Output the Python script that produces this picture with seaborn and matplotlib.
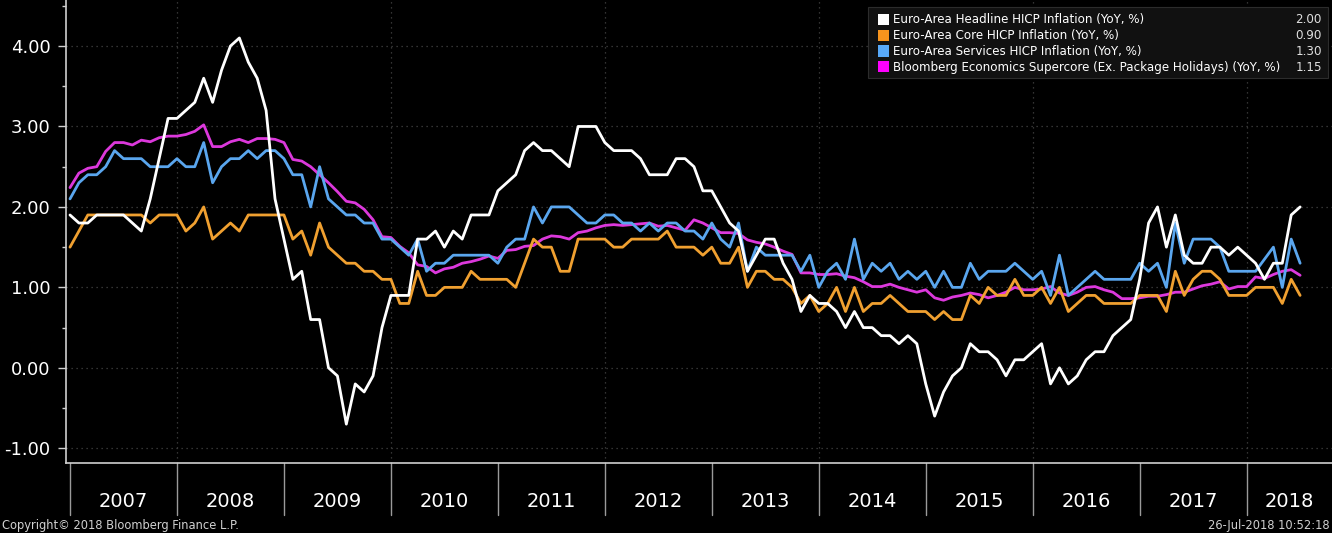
import numpy as np
import pandas as pd
import matplotlib
matplotlib.use("Agg")
import matplotlib.pyplot as plt
import matplotlib.transforms as mtransforms
from matplotlib.patches import Rectangle
import seaborn as sns

# ---------------- data ----------------
months = pd.date_range("2006-12-31", periods=139, freq="ME")

headline = [1.9,
            1.8, 1.8, 1.9, 1.9, 1.9, 1.9, 1.8, 1.7, 2.1, 2.6, 3.1, 3.1,
            3.2, 3.3, 3.6, 3.3, 3.7, 4.0, 4.1, 3.8, 3.6, 3.2, 2.1, 1.6,
            1.1, 1.2, 0.6, 0.6, 0.0, -0.1, -0.7, -0.2, -0.3, -0.1, 0.5, 0.9,
            0.9, 0.9, 1.6, 1.6, 1.7, 1.5, 1.7, 1.6, 1.9, 1.9, 1.9, 2.2,
            2.3, 2.4, 2.7, 2.8, 2.7, 2.7, 2.6, 2.5, 3.0, 3.0, 3.0, 2.8,
            2.7, 2.7, 2.7, 2.6, 2.4, 2.4, 2.4, 2.6, 2.6, 2.5, 2.2, 2.2,
            2.0, 1.8, 1.7, 1.2, 1.4, 1.6, 1.6, 1.3, 1.1, 0.7, 0.9, 0.8,
            0.8, 0.7, 0.5, 0.7, 0.5, 0.5, 0.4, 0.4, 0.3, 0.4, 0.3, -0.2,
            -0.6, -0.3, -0.1, 0.0, 0.3, 0.2, 0.2, 0.1, -0.1, 0.1, 0.1, 0.2,
            0.3, -0.2, 0.0, -0.2, -0.1, 0.1, 0.2, 0.2, 0.4, 0.5, 0.6, 1.1,
            1.8, 2.0, 1.5, 1.9, 1.4, 1.3, 1.3, 1.5, 1.5, 1.4, 1.5, 1.4,
            1.3, 1.1, 1.3, 1.3, 1.9, 2.0]

core = [1.5,
        1.7, 1.9, 1.9, 1.9, 1.9, 1.9, 1.9, 1.9, 1.8, 1.9, 1.9, 1.9,
        1.7, 1.8, 2.0, 1.6, 1.7, 1.8, 1.7, 1.9, 1.9, 1.9, 1.9, 1.9,
        1.6, 1.7, 1.4, 1.8, 1.5, 1.4, 1.3, 1.3, 1.2, 1.2, 1.1, 1.1,
        0.8, 0.8, 1.2, 0.9, 0.9, 1.0, 1.0, 1.0, 1.2, 1.1, 1.1, 1.1,
        1.1, 1.0, 1.3, 1.6, 1.5, 1.5, 1.2, 1.2, 1.6, 1.6, 1.6, 1.6,
        1.5, 1.5, 1.6, 1.6, 1.6, 1.6, 1.7, 1.5, 1.5, 1.5, 1.4, 1.5,
        1.3, 1.3, 1.5, 1.0, 1.2, 1.2, 1.1, 1.1, 1.0, 0.8, 0.9, 0.7,
        0.8, 1.0, 0.7, 1.0, 0.7, 0.8, 0.8, 0.9, 0.8, 0.7, 0.7, 0.7,
        0.6, 0.7, 0.6, 0.6, 0.9, 0.8, 1.0, 0.9, 0.9, 1.1, 0.9, 0.9,
        1.0, 0.8, 1.0, 0.7, 0.8, 0.9, 0.9, 0.8, 0.8, 0.8, 0.8, 0.9,
        0.9, 0.9, 0.7, 1.2, 0.9, 1.1, 1.2, 1.2, 1.1, 0.9, 0.9, 0.9,
        1.0, 1.0, 1.0, 0.8, 1.1, 0.9]

services = [2.1,
            2.3, 2.4, 2.4, 2.5, 2.7, 2.6, 2.6, 2.6, 2.5, 2.5, 2.5, 2.6,
            2.5, 2.5, 2.8, 2.3, 2.5, 2.6, 2.6, 2.7, 2.6, 2.7, 2.7, 2.6,
            2.4, 2.4, 2.0, 2.5, 2.1, 2.0, 1.9, 1.9, 1.8, 1.8, 1.6, 1.6,
            1.5, 1.4, 1.6, 1.2, 1.3, 1.3, 1.4, 1.4, 1.4, 1.4, 1.4, 1.3,
            1.5, 1.6, 1.6, 2.0, 1.8, 2.0, 2.0, 2.0, 1.9, 1.8, 1.8, 1.9,
            1.9, 1.8, 1.8, 1.7, 1.8, 1.7, 1.8, 1.8, 1.7, 1.7, 1.6, 1.8,
            1.6, 1.5, 1.8, 1.2, 1.5, 1.4, 1.4, 1.4, 1.4, 1.2, 1.4, 1.0,
            1.2, 1.3, 1.1, 1.6, 1.1, 1.3, 1.2, 1.3, 1.1, 1.2, 1.1, 1.2,
            1.0, 1.2, 1.0, 1.0, 1.3, 1.1, 1.2, 1.2, 1.2, 1.3, 1.2, 1.1,
            1.2, 0.9, 1.4, 0.9, 1.0, 1.1, 1.2, 1.1, 1.1, 1.1, 1.1, 1.3,
            1.2, 1.3, 1.0, 1.8, 1.3, 1.6, 1.6, 1.6, 1.5, 1.2, 1.2, 1.2,
            1.2, 1.35, 1.5, 1.0, 1.6, 1.3]

supercore = [2.24,
             2.42, 2.48, 2.50, 2.69, 2.80, 2.80, 2.77, 2.83, 2.81, 2.86, 2.88, 2.88,
             2.90, 2.94, 3.02, 2.75, 2.75, 2.81, 2.84, 2.80, 2.85, 2.85, 2.84, 2.80,
             2.59, 2.57, 2.50, 2.40, 2.30, 2.19, 2.07, 2.05, 1.97, 1.84, 1.63, 1.62,
             1.51, 1.43, 1.28, 1.26, 1.18, 1.23, 1.25, 1.30, 1.32, 1.35, 1.39, 1.36,
             1.46, 1.47, 1.51, 1.52, 1.60, 1.64, 1.63, 1.60, 1.68, 1.70, 1.74, 1.77,
             1.78, 1.77, 1.78, 1.79, 1.80, 1.76, 1.77, 1.74, 1.71, 1.84, 1.80, 1.74,
             1.68, 1.68, 1.67, 1.59, 1.56, 1.54, 1.50, 1.45, 1.41, 1.18, 1.18, 1.16,
             1.16, 1.17, 1.14, 1.12, 1.07, 1.01, 1.01, 1.04, 1.00, 0.97, 0.94, 0.97,
             0.87, 0.84, 0.88, 0.90, 0.93, 0.91, 0.87, 0.90, 0.94, 1.00, 0.97, 0.97,
             0.98, 1.01, 0.93, 0.90, 0.94, 1.00, 1.01, 0.97, 0.94, 0.86, 0.86, 0.87,
             0.89, 0.89, 0.91, 0.94, 0.94, 0.98, 1.02, 1.04, 1.07, 0.98, 1.01, 1.01,
             1.13, 1.11, 1.16, 1.20, 1.22, 1.15]

series_names = ["Euro-Area Headline HICP Inflation (YoY, %)",
                "Euro-Area Core HICP Inflation (YoY, %)",
                "Euro-Area Services HICP Inflation (YoY, %)",
                "Bloomberg Economics Supercore (Ex. Package Holidays) (YoY, %)"]
last_values = ["2.00", "0.90", "1.30", "1.15"]
line_colors = ["#ffffff", "#f0a030", "#5aa6ee", "#dc38dc"]
legend_colors = ["#ffffff", "#f7941d", "#58a9f8", "#ff00ff"]
years = list(range(2007, 2019))
y_ticks = [-1, 0, 1, 2, 3, 4]
y_minor = [-0.5, 0.5, 1.5, 2.5, 3.5, 4.5]
grid_years = [2008, 2010, 2012, 2014, 2016, 2018]
copyright_text = "Copyright\u00a9 2018 Bloomberg Finance L.P."
timestamp_text = "26-Jul-2018 10:52:18"

# decimal-year position (month-end): Dec 2006 -> 2007.0
t = np.asarray(months.year + months.month / 12.0, dtype=float)
df = pd.DataFrame({
    "t": np.tile(t, 4),
    "value": headline + core + services + supercore,
    "series": np.repeat(series_names, len(t)),
})

# ---------------- style ----------------
sns.set_theme(style="dark", rc={
    "figure.facecolor": "black",
    "axes.facecolor": "black",
    "savefig.facecolor": "black",
    "text.color": "white",
    "axes.unicode_minus": False,
})
plt.rcParams["font.family"] = ["DejaVu Sans"]
plt.rcParams["axes.unicode_minus"] = False

W, H = 1332, 533
fig = plt.figure(figsize=(W / 100, H / 100), dpi=100)
ax = fig.add_axes([66 / W, 70 / H, 1 - 66 / W, 463 / H])
ax.set_facecolor("black")

palette = dict(zip(series_names, line_colors))
hue_order = series_names[::-1]  # headline drawn on top
sns.lineplot(data=df, x="t", y="value", hue="series", hue_order=hue_order,
             palette=palette, estimator=None, errorbar=None, linewidth=2.0,
             legend=False, ax=ax)

ax.set_xlim(2006.9626, 2018.798)
ax.set_ylim(-1.183, 4.572)
ax.set_xlabel("")
ax.set_ylabel("")

ax.set_yticks(y_ticks)
ax.set_yticklabels([f"{v:.2f}" for v in y_ticks])
ax.set_yticks(y_minor, minor=True)
ax.tick_params(axis="y", which="major", left=True, length=6, width=1,
               color="#d0d0d0", pad=5, labelsize=13, labelcolor="white")
ax.tick_params(axis="y", which="minor", left=True, length=3, width=1,
               color="#d0d0d0")
ax.set_xticks(grid_years)
ax.tick_params(axis="x", which="both", length=0, labelbottom=False)

ax.grid(True, which="major", axis="both", color="#444444",
        linestyle=(0, (1, 3)), linewidth=0.9)
ax.set_axisbelow(True)

for side in ["top", "right"]:
    ax.spines[side].set_visible(False)
for side in ["left", "bottom"]:
    ax.spines[side].set_visible(True)
    ax.spines[side].set_color("#cfcfcf")
    ax.spines[side].set_linewidth(1.2)

# year boxes below the axis
blend = mtransforms.blended_transform_factory(ax.transData, ax.transAxes)
xmin, xmax = ax.get_xlim()
for yr in years:
    ax.plot([yr, yr], [0, -0.112], transform=blend, color="#9a9a9a",
            lw=1.0, clip_on=False)
    lo, hi = max(yr, xmin), min(yr + 1, xmax)
    ax.text((lo + hi) / 2, -0.083, str(yr), transform=blend, ha="center",
            va="center", fontsize=14, color="white")

# footer
fig.text(2 / W, 1 - 525 / H, copyright_text, ha="left", va="center",
         fontsize=8.3, color="#d0d0d0")
fig.text(1330 / W, 1 - 525 / H, timestamp_text, ha="right", va="center",
         fontsize=8.3, color="#d0d0d0")

# legend panel (top right)
fig.add_artist(Rectangle((868 / W, 1 - 78 / H), 460 / W, 71 / H,
                         transform=fig.transFigure, facecolor="#111111",
                         edgecolor="#2c2c2c", lw=0.8, zorder=5))
for k, (name, val, col) in enumerate(zip(series_names, last_values, legend_colors)):
    yc = 19.3 + 15.85 * k
    fig.add_artist(Rectangle((878 / W, 1 - (yc + 5.5) / H), 11 / W, 11 / H,
                             transform=fig.transFigure, facecolor=col,
                             edgecolor="none", zorder=6))
    fig.text(893 / W, 1 - (yc + 0.5) / H, name, ha="left", va="center",
             fontsize=8.6, color="white", zorder=7)
    fig.text(1322 / W, 1 - (yc + 0.5) / H, val, ha="right", va="center",
             fontsize=8.6, color="#e0e0e0", zorder=7)

fig.savefig("out.png", dpi=100, facecolor="black")
